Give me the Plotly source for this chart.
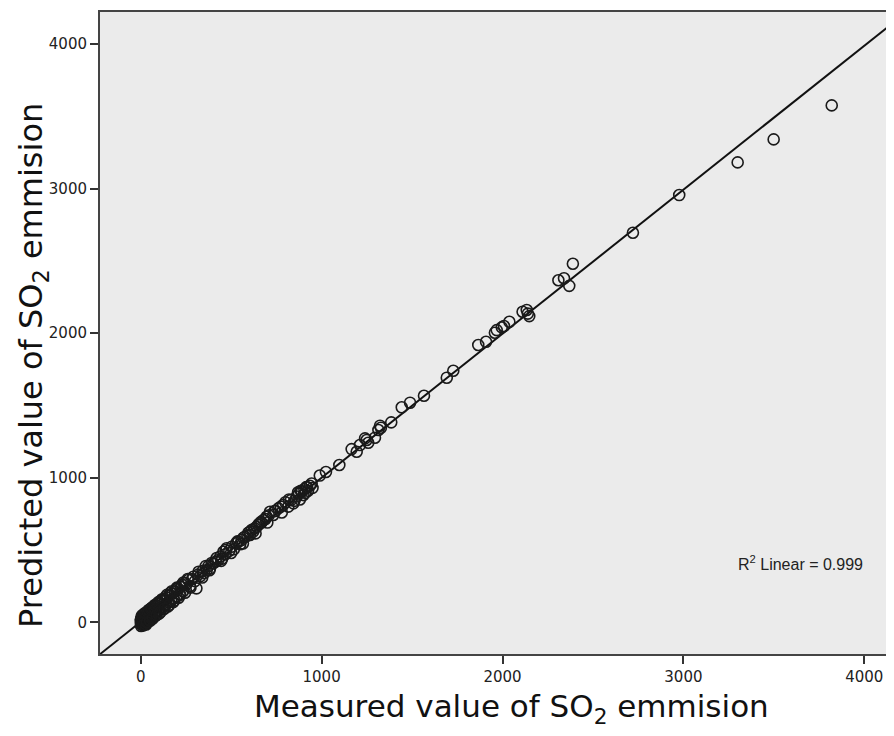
import plotly.graph_objects as go

# ---- data ----
measured = [
    0, 1, 2, 3, 4, 5, 6, 8, 10, 12, 14, 16, 18, 20, 22, 25, 28, 30, 33, 36, 40, 43, 46, 50,
    54, 58, 62, 66, 70, 75, 80, 85, 90, 95, 100, 105, 110, 116, 122, 128, 134, 140, 147,
    154, 160, 168, 175, 182, 190, 198, 206, 215, 224, 234, 244,
    5, 12, 20, 30, 38, 48, 56, 65, 72, 82, 92, 102, 112, 125, 138, 150, 165, 180, 195,
    210, 228, 245, 260, 275,
    2, 9, 15, 24, 34, 44, 52, 60, 68, 78, 88, 98, 108, 118, 132, 145, 158, 172, 186, 200,
    218, 236,
    250, 263, 272, 285, 291, 300, 308, 318, 330, 342, 350, 365, 375, 383, 392, 401, 415,
    429, 440, 450, 457, 468, 475, 490, 503, 515, 528, 540, 550, 558, 568, 576, 590, 604,
    604, 615, 622, 630, 641, 650, 659, 668, 678, 690, 696, 708, 715, 733, 745, 761, 775,
    788, 800, 816, 830, 844,
    320, 340, 360, 380, 420, 445, 470, 500, 535, 565, 595, 635, 665, 700, 740, 780, 820,
    850, 885, 920, 945,
    862, 875, 890, 900, 905, 915, 925, 935, 950, 880, 870, 910,
    990, 1024, 1098, 1166, 1194, 1212, 1240, 1258, 1295, 1249, 1314, 1323, 1328, 1385,
    1443, 1489, 1566, 1692, 1728, 1866, 1909, 1958, 1968, 1996, 2008, 2038,
    2111, 2134, 2140, 2148, 2309, 2340, 2369, 2389, 2721, 2977, 3300, 3499, 3820,
]
predicted = [
    10, -8, 22, 0, 15, -12, 30, 5, -15, 28, 2, 35, -5, 40, 12, -10, 45, 20, 8, 55, 25, 50, 18, 70,
    35, 80, 45, 40, 95, 60, 105, 70, 115, 80, 125, 95, 130, 100, 150, 115, 160, 125, 170,
    140, 185, 150, 200, 165, 215, 180, 235, 195, 245, 215, 270,
    40, -20, 55, -15, 75, 15, 95, 25, 110, 45, 130, 60, 150, 90, 175, 110, 205, 140, 230,
    170, 260, 205, 300, 240,
    -25, 50, -20, 65, 0, 85, 10, 100, 30, 120, 50, 140, 70, 160, 95, 190, 120, 215, 150, 240,
    190, 275,
    262, 293, 250, 300, 315, 285, 235, 330, 320, 355, 340, 362, 390, 373, 410, 408, 420,
    431, 455, 440, 488, 470, 512, 495, 523, 505, 548, 557, 540, 569, 585, 592, 600, 604,
    627, 640, 627, 650, 660, 675, 685, 690, 707, 715, 730, 740, 765, 742, 770, 788, 800,
    811, 830, 800, 845, 823,
    350, 310, 390, 360, 445, 425, 500, 480, 560, 545, 620, 615, 695, 690, 770, 760, 850,
    840, 910, 935, 960,
    870, 890, 905, 880, 920, 935, 910, 945, 930, 850, 900, 895,
    1015, 1040, 1088, 1198, 1180, 1226, 1272, 1242, 1277, 1261, 1330, 1360, 1346, 1383,
    1487, 1519, 1567, 1692, 1740, 1918, 1940, 2003, 2021, 2040, 2049, 2079,
    2148, 2160, 2135, 2118, 2366, 2380, 2327, 2480, 2694, 2955, 3181, 3340, 3575,
]

fit_slope = 0.996
fit_intercept = 4.0
r2_label = "R<sup>2</sup> Linear = 0.999"

tick_vals = [0, 1000, 2000, 3000, 4000]
tick_text = ["0", "1000", "2000", "3000", "4000"]

x_range = [-225, 4120]
y_range = [-219, 4221]

x_title = "Measured value of SO<sub>2</sub> emmision"
y_title = "Predicted value of SO<sub>2</sub> emmision"

# ---- figure ----
fit_x = [x_range[0] - 100, x_range[1] + 300]
fit_y = [fit_intercept + fit_slope * v for v in fit_x]

fig = go.Figure()
fig.add_trace(go.Scatter(
    x=fit_x, y=fit_y, mode="lines",
    line=dict(color="#111111", width=2),
    hoverinfo="skip", showlegend=False,
))
fig.add_trace(go.Scatter(
    x=measured, y=predicted, mode="markers",
    marker=dict(symbol="circle-open", size=11, color="#1a1a1a",
                line=dict(width=1.6, color="#1a1a1a")),
    showlegend=False,
))

axis_font = dict(family="DejaVu Sans", size=15, color="#222222")
fig.update_xaxes(
    range=x_range, tickvals=tick_vals, ticktext=tick_text,
    showgrid=False, zeroline=False,
    showline=True, linecolor="#444444", linewidth=2, mirror=True,
    ticks="outside", ticklen=8, tickwidth=1.5, tickcolor="#333333",
    tickfont=axis_font,
)
fig.update_yaxes(
    range=y_range, tickvals=tick_vals, ticktext=tick_text,
    showgrid=False, zeroline=False,
    showline=True, linecolor="#444444", linewidth=2, mirror=False,
    ticks="outside", ticklen=8, tickwidth=1.5, tickcolor="#333333",
    tickfont=axis_font,
)

fig.add_annotation(
    text=x_title, xref="paper", yref="paper", x=0.523, y=0,
    yshift=-54, xanchor="center", yanchor="middle",
    showarrow=False, font=dict(family="DejaVu Sans", size=31, color="#111111"),
)
fig.add_annotation(
    text=y_title, xref="paper", yref="paper", x=0, y=0.4486,
    xshift=-67, xanchor="center", yanchor="middle", textangle=-90,
    showarrow=False, font=dict(family="DejaVu Sans", size=32, color="#111111"),
)
fig.add_annotation(
    text=r2_label, xref="paper", yref="paper", x=0.8906, y=0.1417,
    xanchor="center", yanchor="middle", showarrow=False,
    font=dict(family="Liberation Sans", size=16, color="#222222"),
)

fig.update_layout(
    width=878, height=720,
    margin=dict(l=92, r=0, t=4, b=74),
    paper_bgcolor="white",
    plot_bgcolor="#EBEBEB",
)

fig.write_html("out.html")
